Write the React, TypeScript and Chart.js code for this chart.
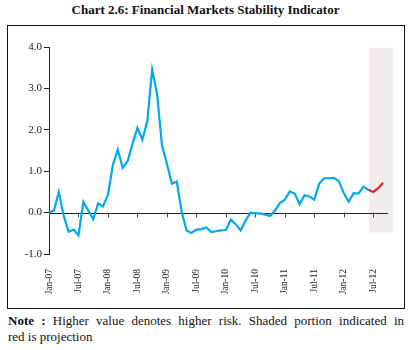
import React, { useEffect, useRef } from "react";
import { Chart, registerables } from "chart.js";

Chart.register(...registerables);

const monthNames = ["Jan", "Feb", "Mar", "Apr", "May", "Jun", "Jul", "Aug", "Sep", "Oct", "Nov", "Dec"];
const years = ["07", "08", "09", "10", "11", "12"];

// Monthly categories Jan-07 .. Oct-12
const categories: string[] = [];
years.forEach((y) => monthNames.forEach((m) => categories.push(`${m}-${y}`)));
categories.splice(70);

// Observed index (Jan-07 .. Jun-12)
const actualValues: (number | null)[] = [
  0.0, 0.05, 0.5, -0.08, -0.46, -0.41, -0.55, 0.26, 0.05, -0.16, 0.22, 0.15,
  0.43, 1.15, 1.52, 1.08, 1.24, 1.66, 2.05, 1.76, 2.2, 3.45, 2.87, 1.62,
  1.18, 0.7, 0.75, 0.02, -0.43, -0.49, -0.41, -0.4, -0.36, -0.47, -0.45, -0.43,
  -0.42, -0.17, -0.28, -0.43, -0.2, 0.0, -0.02, -0.02, -0.05, -0.08, 0.05, 0.23,
  0.31, 0.51, 0.46, 0.2, 0.42, 0.39, 0.31, 0.7, 0.83, 0.83, 0.84, 0.76,
  0.47, 0.26, 0.47, 0.46, 0.63, 0.55,
];

// Projection (Jun-12 .. Sep-12)
const projectionStart = 65;
const projectionValues: number[] = [0.55, 0.5, 0.59, 0.72];

const yTicks = [-1, 0, 1, 2, 3, 4];

// Shaded projection band, in data units
const shadeFrom = 65.1;
const shadeTo = 70.1;
const shadeTop = 3.98;
const shadeBottom = -0.48;

const blueSeries = categories.map((_, i) => (i < actualValues.length ? actualValues[i] : null));
const redSeries = categories.map((_, i) =>
  i >= projectionStart && i < projectionStart + projectionValues.length ? projectionValues[i - projectionStart] : null
);

const overlayPlugin = {
  id: "overlay",
  beforeDatasetsDraw(chart: any) {
    const { ctx, scales } = chart;
    const x = scales.x;
    const y = scales.y;
    ctx.save();
    // shaded projection band
    const l = x.getPixelForValue(shadeFrom);
    const r = x.getPixelForValue(shadeTo);
    const t = y.getPixelForValue(shadeTop);
    const b = y.getPixelForValue(shadeBottom);
    ctx.fillStyle = "#F1EDED";
    ctx.fillRect(l, t, r - l, b - t);
    // zero line
    const y0 = Math.round(y.getPixelForValue(0)) + 0.5;
    ctx.strokeStyle = "#222";
    ctx.lineWidth = 1;
    ctx.beginPath();
    ctx.moveTo(chart.chartArea.left, y0);
    ctx.lineTo(chart.chartArea.right, y0);
    ctx.stroke();
    // tick marks on the zero line
    ctx.strokeStyle = "#444";
    categories.forEach((_, i) => {
      if (i % 6 === 0) {
        const px = Math.round(x.getPixelForValue(i)) + 0.5;
        ctx.beginPath();
        ctx.moveTo(px, y0 - 1);
        ctx.lineTo(px, y0 + 4);
        ctx.stroke();
      }
    });
    ctx.restore();
  },
};

function ChartView() {
  const ref = useRef<HTMLCanvasElement | null>(null);
  useEffect(() => {
    if (!ref.current) return;
    const chart = new Chart(ref.current, {
      type: "line",
      data: {
        labels: categories,
        datasets: [
          {
            data: blueSeries,
            borderColor: "#00A9EC",
            borderWidth: 2.2,
            pointRadius: 0,
            tension: 0,
            spanGaps: false,
          },
          {
            data: redSeries,
            borderColor: "#EE1C25",
            borderWidth: 2.2,
            pointRadius: 0,
            tension: 0,
            spanGaps: false,
          },
        ],
      },
      options: {
        animation: false,
        responsive: false,
        devicePixelRatio: 1,
        layout: { padding: { top: 21, right: 16, left: 0, bottom: 0 } },
        plugins: { legend: { display: false }, tooltip: { enabled: false } },
        scales: {
          x: {
            type: "category",
            offset: false,
            grid: { display: false },
            border: { display: false },
            ticks: {
              autoSkip: false,
              maxRotation: 90,
              minRotation: 90,
              padding: 7,
              color: "#222",
              font: { family: "'Liberation Serif', serif", size: 9.5 },
              callback: (_v: any, i: number) => (i % 6 === 0 ? categories[i] : null),
            },
            afterFit: (s: any) => {
              s.height = 54;
            },
          },
          y: {
            min: -1,
            max: 4,
            afterBuildTicks: (s: any) => {
              s.ticks = yTicks.map((v) => ({ value: v }));
            },
            grid: { drawOnChartArea: false, drawTicks: true, tickLength: 5, color: "#222" },
            border: { display: true, color: "#222", width: 1 },
            ticks: {
              padding: 2,
              color: "#222",
              font: { family: "'Liberation Serif', serif", size: 11 },
              callback: (v: any) => Number(v).toFixed(1),
            },
            afterFit: (s: any) => {
              s.width = 41;
            },
          },
        },
      },
      plugins: [overlayPlugin],
    });
    return () => chart.destroy();
  }, []);
  return <canvas ref={ref} width={396} height={282} style={{ display: "block", width: 396, height: 282 }} />;
}

export default function App() {
  return (
    <div
      style={{
        position: "absolute",
        left: 0,
        top: 0,
        width: 411,
        height: 350,
        background: "#fff",
        fontFamily: "'Liberation Serif', serif",
        color: "#111",
      }}
    >
      <div
        style={{
          position: "absolute",
          left: 0,
          top: 2,
          width: 411,
          textAlign: "center",
          fontWeight: "bold",
          fontSize: 13,
          lineHeight: "16px",
        }}
      >
        Chart 2.6: Financial Markets Stability Indicator
      </div>
      <div
        style={{
          position: "absolute",
          left: 7,
          top: 25,
          width: 396,
          height: 282,
          border: "1px solid #111",
        }}
      >
        <ChartView />
      </div>
      <div
        style={{
          position: "absolute",
          left: 8,
          top: 313,
          width: 396,
          fontSize: 13,
          lineHeight: "16px",
        }}
      >
        <div style={{ textAlign: "justify", textAlignLast: "justify" as any }}>
          <b>Note :</b> Higher value denotes higher risk. Shaded portion indicated in
        </div>
        <div>red is projection</div>
      </div>
    </div>
  );
}
